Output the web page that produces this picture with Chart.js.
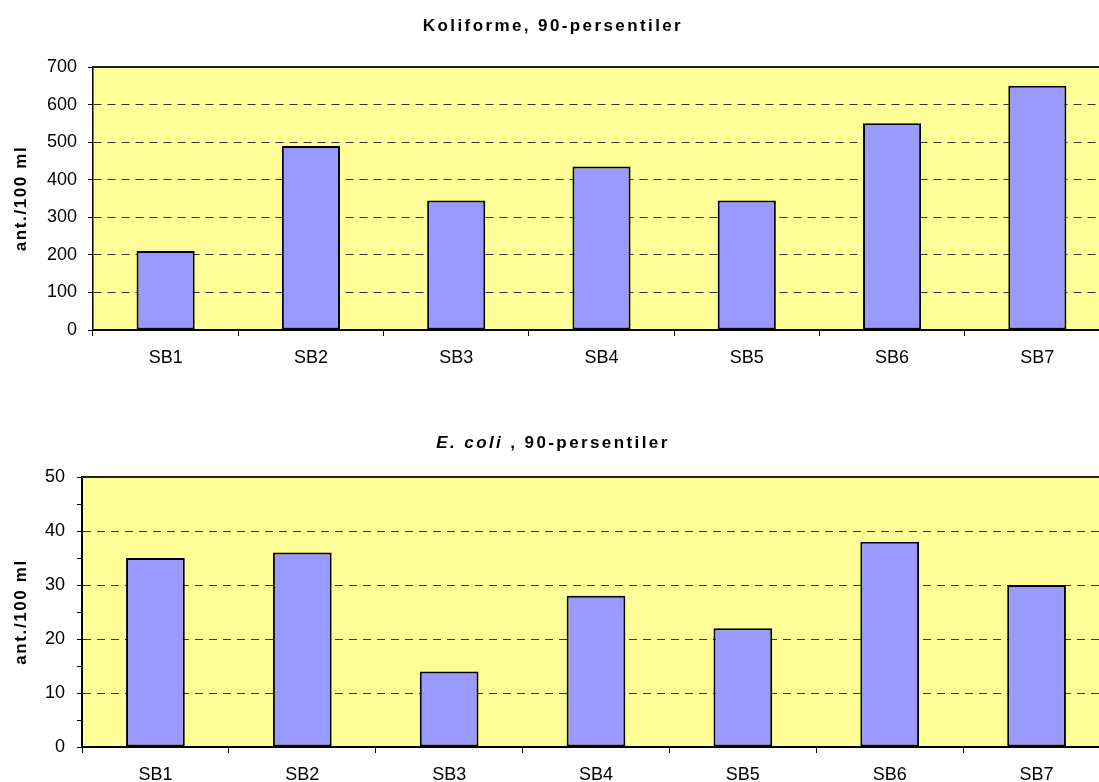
<!DOCTYPE html>
<html>
<head>
<meta charset="utf-8">
<script src="https://cdn.jsdelivr.net/npm/chart.js@4.4.1/dist/chart.umd.min.js"></script>
<style>
  html, body { margin: 0; padding: 0; background: #fff; overflow: hidden; }
  #wrap { position: relative; width: 1099px; height: 782px; overflow: hidden; }
  .box { position: absolute; left: 0; width: 1110px; height: 400px; }
  #box1 { top: 0; }
  #box2 { top: 400px; }
</style>
</head>
<body>
<div id="wrap">
  <div class="box" id="box1"><canvas id="koliChart" width="1110" height="400"></canvas></div>
  <div class="box" id="box2"><canvas id="ecoliChart" width="1110" height="400"></canvas></div>
</div>
<script>
/* ── Data ─────────────────────────────────────────────────────────────── */
const categories    = ['SB1', 'SB2', 'SB3', 'SB4', 'SB5', 'SB6', 'SB7'];
const koliValues    = [210, 490, 345, 435, 345, 550, 650];
const ecoliValues   = [35, 36, 14, 28, 22, 38, 30];
const koliTicks     = [0, 100, 200, 300, 400, 500, 600, 700];
const ecoliTicks    = [0, 10, 20, 30, 40, 50];
const yAxisTitle    = 'ant./100 ml';
const koliTitle     = [{ text: 'Koliforme, 90-persentiler', style: 'bold' }];
const ecoliTitle    = [{ text: 'E. coli', style: 'italic bold' }, { text: ' , 90-persentiler', style: 'bold' }];

const FONT = '"Liberation Sans", Arial, sans-serif';
const BAR_FILL = '#9999ff';
const PLOT_BG  = '#ffff99';

/* ── Text helper (letter spaced, mixed styles) ────────────────────────── */
function drawPieces(ctx, pieces, cx, y, size, spacing, baseline) {
  ctx.save();
  ctx.letterSpacing = spacing + 'px';
  ctx.textAlign = 'left';
  ctx.textBaseline = baseline || 'alphabetic';
  ctx.fillStyle = '#000';
  let total = 0;
  pieces.forEach(p => {
    ctx.font = `${p.style} ${size}px ${FONT}`;
    p.w = ctx.measureText(p.text).width;
    total += p.w;
  });
  let x = cx - total / 2;
  pieces.forEach(p => {
    ctx.font = `${p.style} ${size}px ${FONT}`;
    ctx.fillText(p.text, x, y);
    x += p.w;
  });
  ctx.restore();
}

/* ── Plot decoration plugin ───────────────────────────────────────────── */
const plotDecor = {
  id: 'plotDecor',
  beforeDraw(chart) {
    const { ctx, chartArea: a } = chart;
    ctx.save();
    ctx.fillStyle = PLOT_BG;
    ctx.fillRect(a.left, a.top, a.right - a.left, a.bottom - a.top);
    ctx.restore();
  },
  afterDraw(chart, args, opts) {
    const { ctx, chartArea: a } = chart;
    // top frame line
    ctx.save();
    ctx.strokeStyle = '#222';
    ctx.lineWidth = 2;
    ctx.beginPath();
    ctx.moveTo(a.left, a.top);
    ctx.lineTo(a.right, a.top);
    ctx.stroke();
    ctx.restore();
    // chart title
    drawPieces(ctx, opts.title, opts.titleX, opts.titleY, 17, 2.4);
    // y axis title
    ctx.save();
    ctx.translate(21, (a.top + a.bottom) / 2);
    ctx.rotate(-Math.PI / 2);
    drawPieces(ctx, [{ text: yAxisTitle, style: 'bold' }], 0, 0, 17, 1.6, 'middle');
    ctx.restore();
  }
};

/* ── Chart builder ────────────────────────────────────────────────────── */
function makeChart(id, values, cfg) {
  const yMax = cfg.ticks[cfg.ticks.length - 1];
  const step = cfg.ticks[1] - cfg.ticks[0];
  return new Chart(document.getElementById(id), {
    type: 'bar',
    data: {
      labels: categories,
      datasets: [{
        data: values,
        backgroundColor: BAR_FILL,
        borderColor: '#000',
        borderWidth: 2,
        borderSkipped: false,
        barPercentage: 0.4,
        categoryPercentage: 1,
      }],
    },
    options: {
      responsive: false,
      animation: false,
      layout: { padding: { top: cfg.padTop, bottom: cfg.padBottom, left: 0, right: 0 } },
      plugins: {
        legend: { display: false },
        tooltip: { enabled: false },
        plotDecor: { title: cfg.title, titleX: 553, titleY: cfg.titleY },
      },
      scales: {
        x: {
          offset: true,
          grid: { offset: true, drawOnChartArea: false, tickLength: 6, tickColor: '#000', color: '#000' },
          border: { color: '#000', width: 2 },
          ticks: { color: '#000', font: { family: FONT, size: 18 }, padding: 11, maxRotation: 0 },
          afterFit: s => { s.height = 40; },
        },
        y: {
          min: 0,
          max: yMax,
          ticks: {
            stepSize: cfg.minorStep,
            color: '#000',
            font: { family: FONT, size: 18 },
            padding: cfg.labelPad,
            callback: v => (cfg.ticks.includes(v) ? v : ''),
          },
          grid: {
            color: c => {
              const v = c.tick && c.tick.value;
              return (v > 0 && v < yMax && v % step === 0) ? '#333' : 'rgba(0,0,0,0)';
            },
            tickColor: '#000',
            tickLength: 5,
            lineWidth: 1,
          },
          border: { color: '#000', width: cfg.axisWidth, dash: [8, 6] },
          afterFit: s => { s.width = cfg.axisW; },
        },
      },
    },
    plugins: [plotDecor],
  });
}

makeChart('koliChart', koliValues, {
  ticks: koliTicks, minorStep: 100, padTop: 67, padBottom: 30,
  axisW: 93, labelPad: 11, axisWidth: 1.5, title: koliTitle, titleY: 31,
});
makeChart('ecoliChart', ecoliValues, {
  ticks: ecoliTicks, minorStep: 5, padTop: 77, padBottom: 13,
  axisW: 82, labelPad: 12, axisWidth: 2, title: ecoliTitle, titleY: 48,
});
</script>
</body>
</html>
